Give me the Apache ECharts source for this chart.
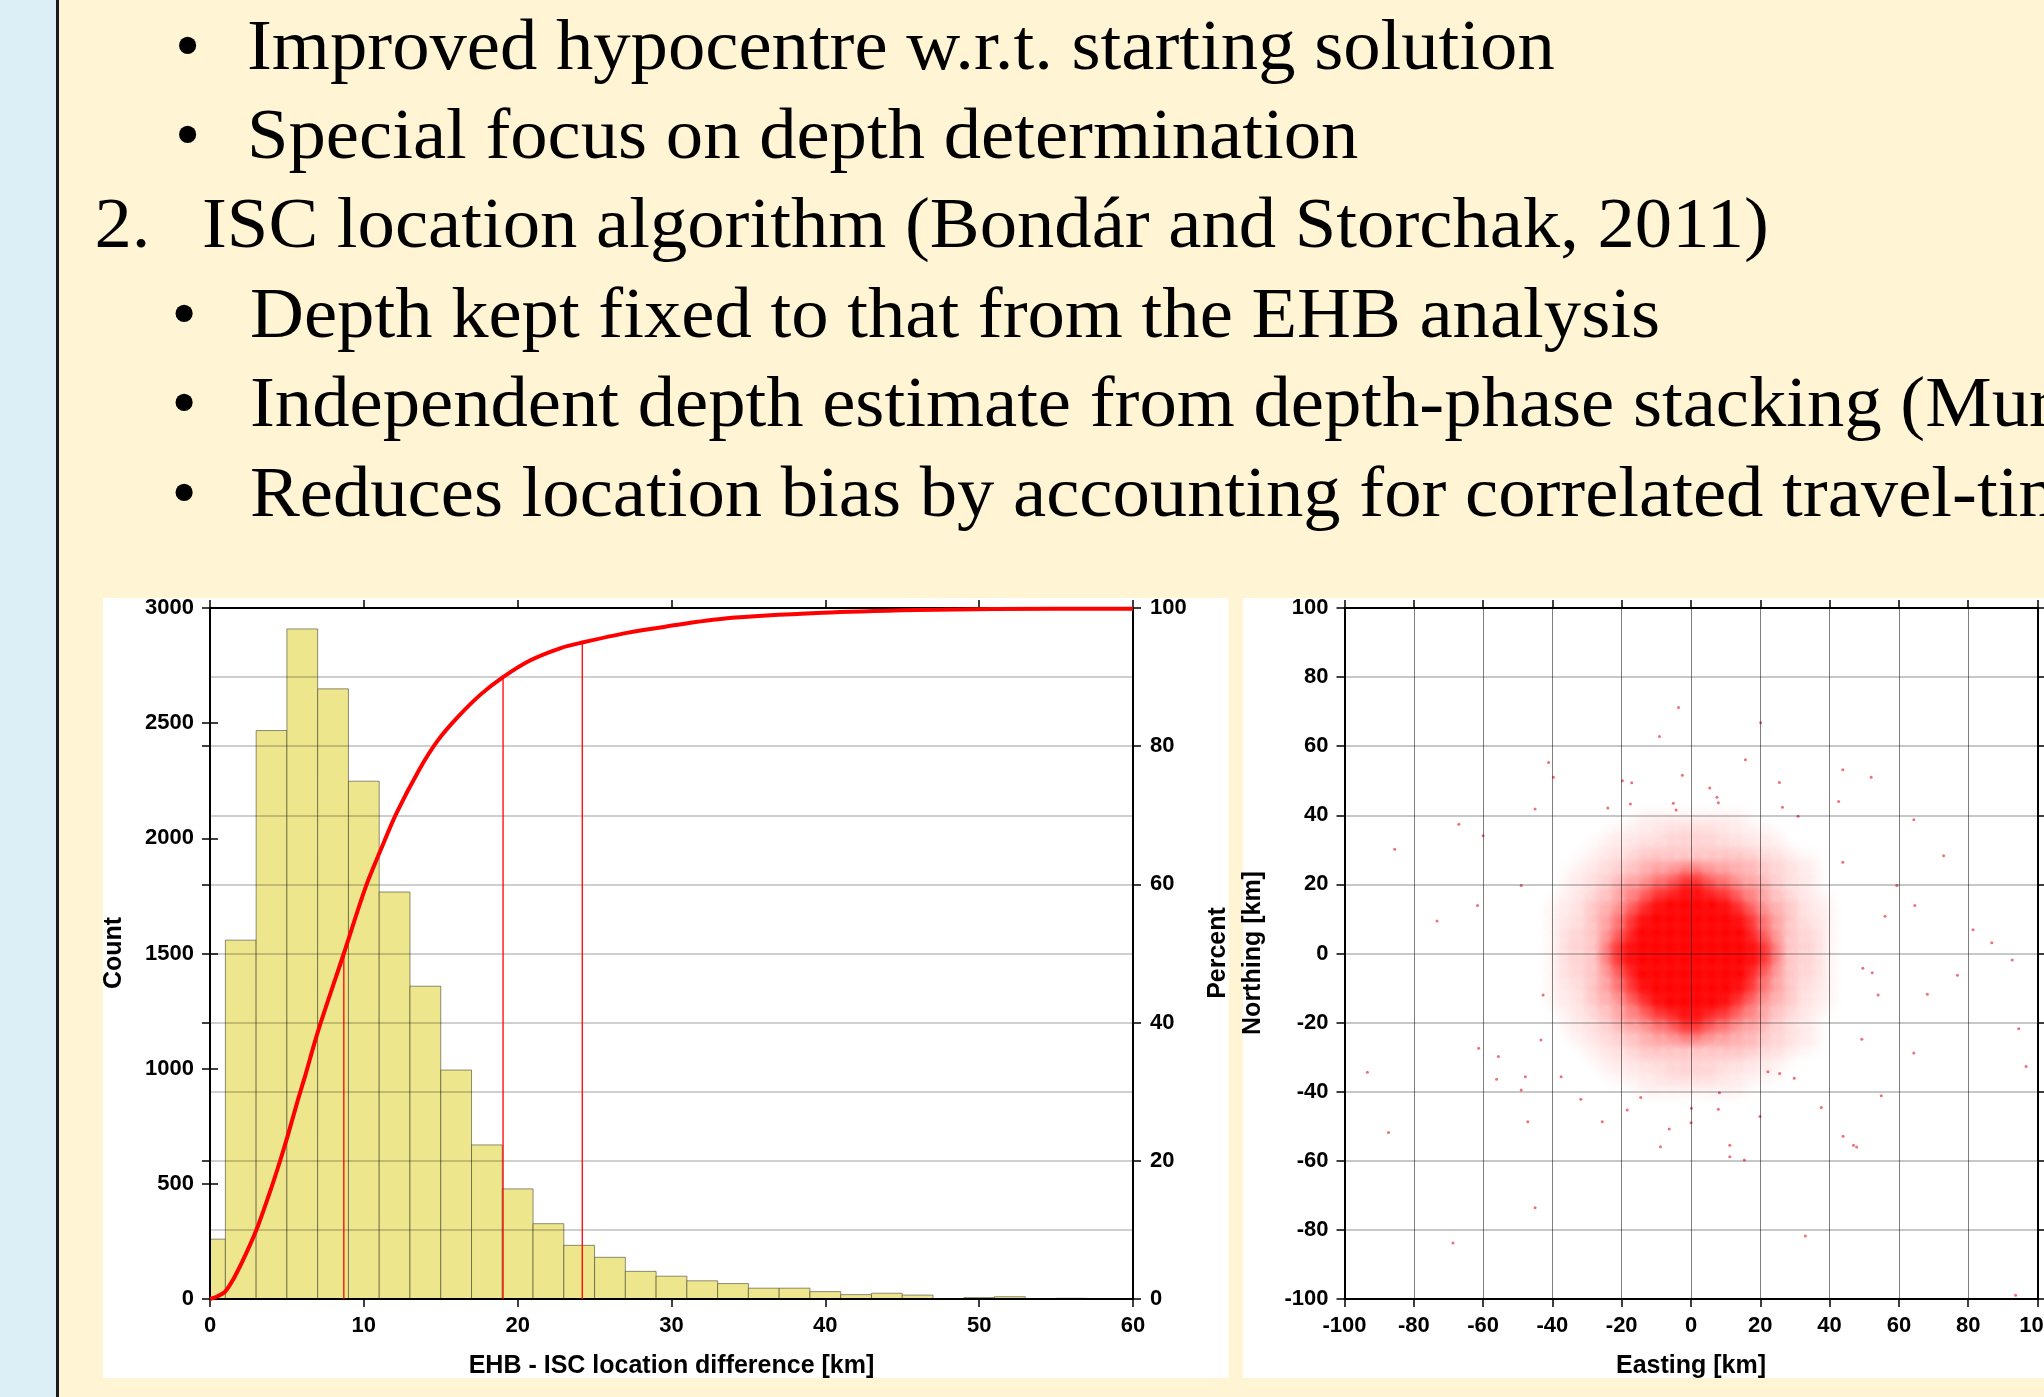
<!DOCTYPE html>
<html><head><meta charset="utf-8">
<script src="https://cdn.jsdelivr.net/npm/echarts@6/dist/echarts.min.js"></script>
<style>html,body{margin:0;padding:0;background:#FFF4D4;overflow:hidden}#c{width:2044px;height:1397px}</style>
</head><body><div id="c"></div>
<script>
// ---------- DATA ----------
const slideLines = [
  'Improved hypocentre w.r.t. starting solution',
  'Special focus on depth determination',
  'ISC location algorithm (Bondár and Storchak, 2011)',
  'Depth kept fixed to that from the EHB analysis',
  'Independent depth estimate from depth-phase stacking (Murphy and Barker, 2006)',
  'Reduces location bias by accounting for correlated travel-time prediction errors'
];
const slideMarkers = ['•', '•', '2.', '•', '•', '•'];

// histogram of EHB - ISC location difference (km)
const binEdges = [0,1,3,5,7,9,11,13,15,17,19,21,23,25,27,29,31,33,35,37,39,41,43,45,47,49,51,53,55,57,59];
const binCounts = [260,1558,2468,2909,2649,2248,1767,1358,994,669,478,327,233,181,120,99,79,67,47,47,32,19,25,17,0,6,10,0,3,0];

// cumulative percentage curve
const cdfKm  = [0,0.5,1,1.5,2.1,3,3.9,4.6,5.1,5.7,6.2,7,8.7,10.1,11.1,12.1,13.6,14.8,16.1,17.6,19.05,20.8,22.8,24.2,27.1,29.6,33.6,39.8,46,51,60];
const cdfPct = [0,0.4,1.1,2.8,5.4,9.9,15.5,20.3,24,28.7,32.4,38.6,50,59.5,65,70.2,76.6,80.8,84.2,87.5,90,92.4,94.2,95,96.4,97.3,98.5,99.3,99.7,99.85,99.9];

// 50 / 90 / 95 percentile markers
const quantileKm  = [8.7, 19.05, 24.2];
const quantilePct = [50, 90, 95];

// axis ranges / tick steps
const histKmRange = [0, 60, 10];
const countRange  = [0, 3000, 500];
const pctRange    = [0, 100, 20];
const pctGridStep = 10;
const mapRange    = [-100, 100, 20];

// epicentre differences: density of the dense cloud, 4 km cells (level 0..9), rows north->south
const densityCellKm = 4;
const densityEast  = [-42,-38,-34,-30,-26,-22,-18,-14,-10,-6,-2,2,6,10,14,18,22,26,30,34,38,42];
const densityNorth = [42,38,34,30,26,22,18,14,10,6,2,-2,-6,-10,-14,-18,-22,-26,-30,-34,-38,-42];
const densityRows = [
  '0000000000000000000000',
  '0000000111111110000000',
  '0000011112222111100000',
  '0000111222222221110000',
  '0001122333333333221100',
  '0011223344554433221100',
  '0011234455665544321100',
  '0112334567777654332110',
  '0112345678888765432110',
  '0122345789999875432210',
  '0122356789999876532210',
  '0122356789999876532210',
  '0122345789999875432210',
  '0112345678888765432110',
  '0112334567777654332110',
  '0011234455665544321100',
  '0011223344554433221100',
  '0001122333333333221100',
  '0000111222222221110000',
  '0000011112222111100000',
  '0000000111111110000000',
  '0000000000000000000000'
];
// isolated outlying events (Easting, Northing km)
const outlierEast  = [-3.6,-9.1,20.1,15.7,-41.1,-39.7,-2.5,-19.8,-17.1,25.5,43.8,52,5.4,7.5,7.9,42.6,-45,-24,-17.5,-5.1,-4.3,26.4,-67,-60,-85.5,30.9,64.3,72.9,43.8,-49,-61.6,-73.3,59.4,64.6,56,81.4,86.8,92.7,49.6,52.3,76.9,54,68.2,49.3,64.3,94.6,96.7,-42.7,-43.3,-61.3,-55.6,-93.4,-87.3,-68.7,-45,-47.1,-47.8,-49,-56.1,-37.5,-31.8,-25.6,-18.4,-14.5,-6.3,-8.8,0,0.1,7.9,8.2,11.2,11.2,15.4,19.9,37.6,43.9,46.9,47.8,54.9,33,93.7,29.8,25.6,22.2];
const outlierNorth = [71.2,62.8,66.8,56.1,55.3,51,51.6,50,49.4,49.5,53.2,51,47.9,45.2,43.6,44,41.8,42.1,43.3,43.5,41.5,42.3,37.4,34.1,30.2,39.7,38.7,28.3,26.4,19.7,13.9,9.4,19.7,13.9,10.8,6.9,3.1,-1.9,-4.3,-5.6,-6.3,-12,-11.8,-24.8,-28.8,-21.8,-32.7,-12,-25,-27.4,-29.8,-34.4,-51.8,-83.8,-73.6,-48.7,-35.7,-39.5,-36.4,-35.7,-42.2,-48.7,-45.3,-41.7,-50.8,-55.9,-49,-44.8,-45.1,-40.3,-55.5,-58.8,-59.8,-47.2,-44.6,-52.9,-55.5,-56,-41.2,-81.8,-98.9,-36.1,-34.7,-34.2];

// ---------- BUILD ----------
// peak opacity of the soft kernel drawn for each density level
const levelPeak = [0,0.04,0.08,0.14,0.26,0.46,0.8,1,1,1];
const densityData = [];
densityRows.forEach((row, r) => {
  for (let c = 0; c < row.length; c++) {
    const lv = +row[c];
    if (lv > 0) densityData.push([densityEast[c], densityNorth[r], lv]);
  }
});
const histData = binCounts.map((n, i) => [binEdges[i], binEdges[i + 1], n]);
const cdfData = cdfKm.map((k, i) => [k, cdfPct[i]]);
const qData = quantileKm.map((k, i) => [k, quantilePct[i]]);
const outData = outlierEast.map((e, i) => [e, outlierNorth[i]]);

const plain = v => String(v);
const LAB = {fontFamily:'Liberation Sans', fontWeight:'bold', fontSize:22, color:'#000', formatter:plain};
const AX_LINE = {show:true, onZero:false, lineStyle:{color:'#000', width:2}};
const AX_TICK = {show:true, inside:false, length:8, lineStyle:{color:'#000', width:1.5}};
const NO = {show:false};

function axis(extra) {
  return Object.assign({type:'value', axisLine:NO, axisTick:NO, axisLabel:NO, splitLine:NO, z:5}, extra);
}

const option = {
  animation:false,
  backgroundColor:'#FFF4D4',
  grid:[
    {left:210, top:608, width:923, height:691, outerBoundsMode:'none', containLabel:false},
    {left:1344.5, top:608, width:693, height:691, outerBoundsMode:'none', containLabel:false}
  ],
  xAxis:[
    axis({gridIndex:0, position:'bottom', min:histKmRange[0], max:histKmRange[1], interval:histKmRange[2], axisLine:AX_LINE, axisTick:AX_TICK, axisLabel:Object.assign({margin:16}, LAB)}),
    axis({gridIndex:0, position:'top', min:histKmRange[0], max:histKmRange[1], interval:histKmRange[2], axisLine:AX_LINE, axisTick:AX_TICK}),
    axis({gridIndex:1, position:'bottom', min:mapRange[0], max:mapRange[1], interval:mapRange[2], axisLine:AX_LINE, axisTick:AX_TICK, axisLabel:Object.assign({margin:16}, LAB),
      splitLine:{show:true, lineStyle:{color:'rgba(0,0,0,0.5)', width:1}}, z:4}),
    axis({gridIndex:1, position:'top', min:mapRange[0], max:mapRange[1], interval:mapRange[2], axisLine:AX_LINE, axisTick:AX_TICK})
  ],
  yAxis:[
    axis({gridIndex:0, position:'left', min:countRange[0], max:countRange[1], interval:countRange[2], axisLine:AX_LINE, axisTick:AX_TICK, axisLabel:Object.assign({margin:16}, LAB)}),
    axis({gridIndex:0, position:'right', min:pctRange[0], max:pctRange[1], interval:pctRange[2], axisLine:AX_LINE, axisTick:AX_TICK, axisLabel:Object.assign({margin:17}, LAB)}),
    axis({gridIndex:0, position:'left', min:pctRange[0], max:pctRange[1], interval:pctRange[2], axisTick:AX_TICK}),
    axis({gridIndex:0, position:'right', min:countRange[0], max:countRange[1], interval:countRange[2], axisTick:AX_TICK}),
    axis({gridIndex:0, position:'left', min:pctRange[0], max:pctRange[1], interval:pctGridStep,
      splitLine:{show:true, lineStyle:{color:'rgba(0,0,0,0.19)', width:2}}, z:3}),
    axis({gridIndex:1, position:'left', min:mapRange[0], max:mapRange[1], interval:mapRange[2], axisLine:AX_LINE, axisTick:AX_TICK, axisLabel:Object.assign({margin:16}, LAB),
      splitLine:{show:true, lineStyle:{color:'rgba(0,0,0,0.22)', width:2}}, z:4}),
    axis({gridIndex:1, position:'right', min:mapRange[0], max:mapRange[1], interval:mapRange[2], axisLine:AX_LINE, axisTick:AX_TICK})
  ],
  series:[
    {type:'custom', name:'Count', xAxisIndex:0, yAxisIndex:0, z:2, data:histData,
      renderItem:function(p, api){
        const n = api.value(2); if (!n) return null;
        const a = api.coord([api.value(0), n]); const b = api.coord([api.value(1), 0]);
        return {type:'rect', shape:{x:a[0], y:a[1], width:b[0]-a[0], height:b[1]-a[1]},
          style:{fill:'#EEE68C', stroke:'rgba(70,70,50,0.6)', lineWidth:1}};
      }},
    {type:'custom', name:'Percentiles', xAxisIndex:0, yAxisIndex:1, z:6, data:qData,
      renderItem:function(p, api){
        const a = api.coord([api.value(0), 0]); const b = api.coord([api.value(0), api.value(1)]);
        return {type:'line', shape:{x1:a[0], y1:a[1], x2:b[0], y2:b[1]}, style:{stroke:'#FF0000', lineWidth:1.3}};
      }},
    {type:'line', name:'Percent', xAxisIndex:0, yAxisIndex:1, z:7, data:cdfData, showSymbol:false, smooth:0.3,
      lineStyle:{color:'#FF0000', width:4}},
    {type:'custom', name:'Density', xAxisIndex:2, yAxisIndex:5, z:1, data:densityData,
      renderItem:function(p, api){
        const c = api.coord([api.value(0), api.value(1)]);
        const s = api.size([densityCellKm, densityCellKm]);
        const R = s[0] * 1.5;
        const a = levelPeak[api.value(2)];
        return {type:'circle', shape:{cx:c[0], cy:c[1], r:R},
          style:{fill:{type:'radial', x:0.5, y:0.5, r:0.5, colorStops:[
            {offset:0, color:'rgba(255,0,0,' + a + ')'},
            {offset:1, color:'rgba(255,0,0,0)'}]}}};
      }},
    {type:'scatter', name:'Outliers', xAxisIndex:2, yAxisIndex:5, z:2, data:outData, symbol:'circle', symbolSize:3,
      itemStyle:{color:'rgba(230,30,50,0.8)'}}
  ],
  graphic:[]
};

// background decorations and texts
const G = option.graphic;
G.push({type:'rect', z:0, shape:{x:0, y:0, width:56, height:1397}, style:{fill:'#DCEEF6'}});
G.push({type:'rect', z:0, shape:{x:56, y:0, width:3, height:1397}, style:{fill:'#1A1A1A'}});
G.push({type:'rect', z:0, shape:{x:103, y:598, width:1125.5, height:780}, style:{fill:'#FFFFFF'}});
G.push({type:'rect', z:0, shape:{x:1243, y:598, width:801, height:780}, style:{fill:'#FFFFFF'}});

const lineMid = [50, 139.5, 228.5, 318.5, 407.5, 497.5];
const textX   = [247, 247, 202, 250, 250, 250];
const markX   = [187.7, 187.7, 94.5, 184, 184, 184];
const SERIF = '72px "Liberation Serif"';
const SX = 1.037;
slideLines.forEach((t, i) => {
  const isNum = slideMarkers[i] !== '•';
  G.push({type:'text', z:10, x:markX[i], y:lineMid[i], scaleX: isNum ? SX : 1,
    style:{text:slideMarkers[i], font:SERIF, fill:'#000', textAlign: isNum ? 'left' : 'center', textVerticalAlign:'middle', verticalAlign:'middle'}});
  G.push({type:'text', z:10, x:textX[i], y:lineMid[i], scaleX:SX,
    style:{text:t, font:SERIF, fill:'#000', textAlign:'left', textVerticalAlign:'middle', verticalAlign:'middle'}});
});

const TITLE = 'bold 25px "Liberation Sans"';
function title(txt, x, y, rot) {
  G.push({type:'text', z:10, x:x, y:y, rotation:rot || 0,
    style:{text:txt, font:TITLE, fill:'#000', textAlign:'center', textVerticalAlign:'middle', verticalAlign:'middle'}});
}
title('Count', 114.5, 953, Math.PI / 2);
title('Percent', 1218, 953, Math.PI / 2);
title('Northing [km]', 1253, 953, Math.PI / 2);
title('EHB - ISC location difference [km]', 671.5, 1366.5);
title('Easting [km]', 1691, 1366.5);

const chart = echarts.init(document.getElementById('c'), null, {renderer:'canvas', width:2044, height:1397});
chart.setOption(option);
</script>
</body></html>
